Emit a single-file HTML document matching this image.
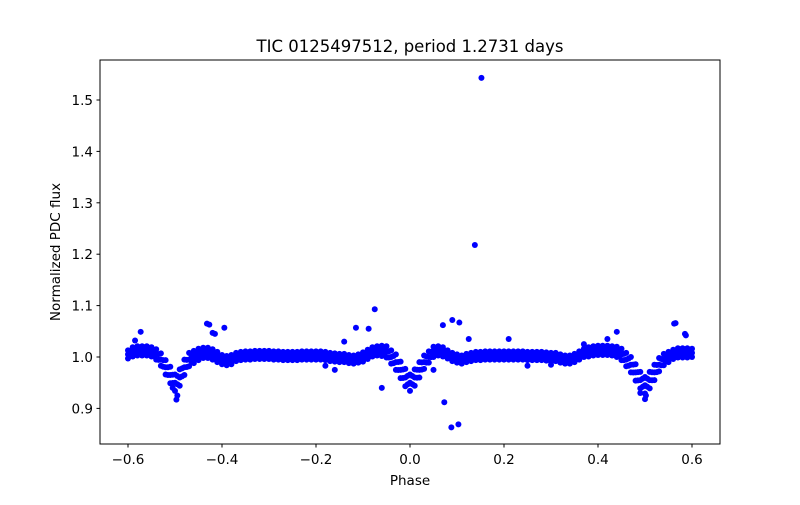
<!DOCTYPE html>
<html><head><meta charset="utf-8"><style>
body{margin:0;background:#fff}
svg text{font-family:"DejaVu Sans","Liberation Sans",sans-serif;fill:#000}
</style></head><body>
<svg id="chart" width="800" height="500" xmlns="http://www.w3.org/2000/svg">
<rect width="800" height="500" fill="#fff"/>
<text x="410" y="52" font-size="16.5" text-anchor="middle">TIC 0125497512, period 1.2731 days</text>
<g id="marks"></g>
<rect x="100" y="60" width="620" height="384" fill="none" stroke="#000" stroke-width="1"/>
<g id="xticks"></g>
<g id="yticks"></g>
<text x="410" y="485" font-size="13.5" text-anchor="middle">Phase</text>
<text transform="translate(60,252) rotate(-90)" font-size="13.5" text-anchor="middle">Normalized PDC flux</text>
</svg>
<script>
const phases=[-0.60,-0.59,-0.58,-0.57,-0.56,-0.55,-0.54,-0.53,-0.52,-0.51,-0.50,-0.49,-0.48,-0.47,-0.46,-0.45,-0.44,-0.43,-0.42,-0.41,-0.40,-0.39,-0.38,-0.37,-0.36,-0.35,-0.34,-0.33,-0.32,-0.31,-0.30,-0.29,-0.28,-0.27,-0.26,-0.25,-0.24,-0.23,-0.22,-0.21,-0.20,-0.19,-0.18,-0.17,-0.16,-0.15,-0.14,-0.13,-0.12,-0.11,-0.10,-0.09,-0.08,-0.07,-0.06,-0.05,-0.04,-0.03,-0.02,-0.01,0.00,0.01,0.02,0.03,0.04,0.05,0.06,0.07,0.08,0.09,0.10,0.11,0.12,0.13,0.14,0.15,0.16,0.17,0.18,0.19,0.20,0.21,0.22,0.23,0.24,0.25,0.26,0.27,0.28,0.29,0.30,0.31,0.32,0.33,0.34,0.35,0.36,0.37,0.38,0.39,0.40,0.41,0.42,0.43,0.44,0.45,0.46,0.47,0.48,0.49,0.50,0.51,0.52,0.53,0.54,0.55,0.56,0.57,0.58,0.59,0.60];
const fluxMid=[1.005,1.01,1.012,1.012,1.012,1.01,1.005,0.995,0.98,0.965,0.95,0.96,0.98,0.995,1.0,1.005,1.008,1.008,1.005,1.0,0.995,0.993,0.995,1.0,1.002,1.003,1.003,1.004,1.004,1.004,1.004,1.003,1.003,1.002,1.002,1.002,1.002,1.003,1.003,1.003,1.003,1.003,1.002,1.0,0.999,0.998,0.998,0.996,0.995,0.997,1.0,1.005,1.01,1.012,1.012,1.01,1.0,0.99,0.975,0.96,0.95,0.96,0.975,0.99,1.0,1.01,1.012,1.01,1.005,1.0,0.997,0.995,0.998,1.0,1.002,1.002,1.003,1.003,1.003,1.003,1.003,1.003,1.003,1.003,1.003,1.002,1.002,1.002,1.002,1.001,1.0,1.0,0.997,0.995,0.995,0.998,1.003,1.008,1.01,1.012,1.013,1.013,1.013,1.012,1.01,1.005,0.995,0.985,0.97,0.955,0.945,0.955,0.97,0.985,0.995,1.0,1.005,1.008,1.008,1.008,1.008];
const fluxSpread=[0.008,0.009,0.009,0.009,0.009,0.009,0.01,0.012,0.014,0.016,0.016,0.016,0.015,0.013,0.012,0.011,0.01,0.01,0.01,0.01,0.009,0.009,0.009,0.008,0.008,0.008,0.008,0.008,0.008,0.008,0.008,0.008,0.008,0.008,0.008,0.008,0.008,0.008,0.008,0.008,0.008,0.008,0.008,0.008,0.008,0.008,0.008,0.008,0.008,0.008,0.009,0.009,0.009,0.009,0.01,0.011,0.013,0.015,0.016,0.017,0.016,0.016,0.015,0.013,0.011,0.01,0.009,0.009,0.008,0.008,0.008,0.008,0.008,0.008,0.008,0.008,0.008,0.008,0.008,0.008,0.008,0.008,0.008,0.008,0.008,0.008,0.008,0.008,0.008,0.008,0.008,0.008,0.008,0.008,0.008,0.008,0.008,0.008,0.009,0.009,0.009,0.009,0.009,0.009,0.01,0.011,0.013,0.015,0.016,0.016,0.016,0.016,0.015,0.013,0.011,0.01,0.009,0.009,0.009,0.009,0.008];
const outPhase=[0.152,0.138,0.09,0.07,0.105,0.125,0.073,0.088,0.103,0.05,-0.075,-0.115,-0.088,-0.432,-0.427,-0.42,-0.415,-0.395,-0.573,-0.585,-0.497,-0.495,0.565,0.562,0.585,0.587,0.44,0.42,0.37,0.5,0.502,0.21,-0.14,-0.06,-0.16,-0.18,0.3,0.25,-0.505,0.49];
const outFlux=[1.543,1.218,1.072,1.062,1.067,1.035,0.912,0.863,0.869,0.975,1.093,1.057,1.055,1.065,1.063,1.047,1.045,1.057,1.049,1.032,0.917,0.925,1.066,1.065,1.045,1.042,1.049,1.035,1.025,0.918,0.925,1.035,1.03,0.94,0.975,0.983,0.985,0.983,0.94,0.93];
const xTickVals=[-0.6,-0.4,-0.2,0.0,0.2,0.4,0.6];
const xTickLabels=["\u22120.6","\u22120.4","\u22120.2","0.0","0.2","0.4","0.6"];
const yTickVals=[0.9,1.0,1.1,1.2,1.3,1.4,1.5];
const yTickLabels=["0.9","1.0","1.1","1.2","1.3","1.4","1.5"];

const NS="http://www.w3.org/2000/svg";
function xs(p){return 410+p*470;}
function ys(v){return 357-(v-1)*514;}
const marks=document.getElementById('marks');
function dot(p,v,name){
  const c=document.createElementNS(NS,'circle');
  c.setAttribute('cx',xs(p));c.setAttribute('cy',ys(v));c.setAttribute('r',3);c.setAttribute('fill','#0000ff');
  
  
  marks.appendChild(c);
}
phases.forEach((p,i)=>{
  const m=fluxMid[i],s=fluxSpread[i];
  dot(p,m,'data-point');
  dot(p,m+s,'data-point');
  dot(p,m-s,'data-point');
  if(i<phases.length-1){
    const pm=(p+phases[i+1])/2,mm=(m+fluxMid[i+1])/2,sm=(s+fluxSpread[i+1])/2;
    dot(pm,mm+sm*0.5,'data-point');
    dot(pm,mm-sm*0.5,'data-point');
  }
});
outPhase.forEach((p,i)=>dot(p,outFlux[i],'outlier-point'));
const xt=document.getElementById('xticks');
xTickVals.forEach((v,i)=>{
  const l=document.createElementNS(NS,'line');
  l.setAttribute('x1',xs(v));l.setAttribute('x2',xs(v));l.setAttribute('y1',444);l.setAttribute('y2',447.5);l.setAttribute('stroke','#000');
  
  
  xt.appendChild(l);
  const t=document.createElementNS(NS,'text');
  t.setAttribute('x',xs(v));t.setAttribute('y',464);t.setAttribute('font-size','13.5');t.setAttribute('text-anchor','middle');
  t.textContent=xTickLabels[i];
  
  
  xt.appendChild(t);
});
const yt=document.getElementById('yticks');
yTickVals.forEach((v,i)=>{
  const l=document.createElementNS(NS,'line');
  l.setAttribute('x1',96.5);l.setAttribute('x2',100);l.setAttribute('y1',ys(v));l.setAttribute('y2',ys(v));l.setAttribute('stroke','#000');
  
  
  yt.appendChild(l);
  const t=document.createElementNS(NS,'text');
  t.setAttribute('x',93);t.setAttribute('y',ys(v)+5);t.setAttribute('font-size','13.5');t.setAttribute('text-anchor','end');
  t.textContent=yTickLabels[i];
  
  
  yt.appendChild(t);
});
</script>
</body></html>
